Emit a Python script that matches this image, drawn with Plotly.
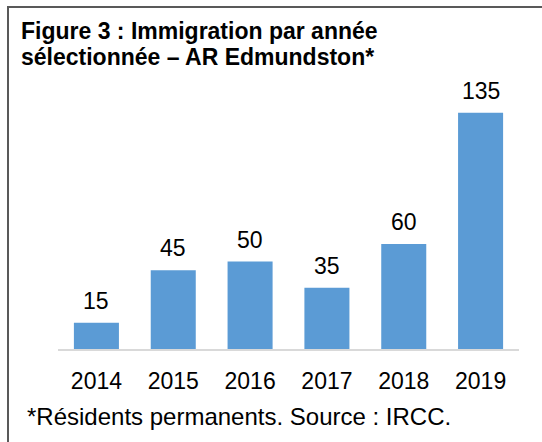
import plotly.graph_objects as go

years = ["2014", "2015", "2016", "2017", "2018", "2019"]
immigrants = [15, 45, 50, 35, 60, 135]
labels = ["15", "45", "50", "35", "60", "135"]

W, H = 542, 442
L, R, T, B = 58, 23, 60, 93
pw, ph = W - L - R, H - T - B

def px(x):
    return (x - L) / pw

def py(y):
    return (H - B - y) / ph

FONT = "Liberation Sans, Arial, sans-serif"

fig = go.Figure(go.Bar(
    x=years, y=immigrants, marker=dict(color="#5B9BD5", line=dict(width=0)),
    hoverinfo="skip",
))

for i, (v, lab) in enumerate(zip(immigrants, labels)):
    fig.add_annotation(x=i, y=v, text=lab, showarrow=False, yanchor="bottom",
                       yshift=7, font=dict(family=FONT, size=23, color="#000000"))

fig.add_annotation(xref="paper", yref="paper", x=px(19), y=py(31), xanchor="left",
                   yanchor="middle", showarrow=False,
                   text="<b>Figure 3 : Immigration par année</b>",
                   font=dict(family=FONT, size=23, color="#000000"))
fig.add_annotation(xref="paper", yref="paper", x=px(19), y=py(57), xanchor="left",
                   yanchor="middle", showarrow=False,
                   text="<b>sélectionnée – AR Edmundston*</b>",
                   font=dict(family=FONT, size=23, color="#000000"))
fig.add_annotation(xref="paper", yref="paper", x=px(25), y=py(416), xanchor="left",
                   yanchor="middle", showarrow=False,
                   text="*Résidents permanents. Source : IRCC.",
                   font=dict(family=FONT, size=24, color="#000000"))

fig.add_shape(type="rect", xref="paper", yref="paper", x0=px(8), x1=px(560),
              y0=py(7), y1=py(470), line=dict(color="#595959", width=2),
              fillcolor="rgba(0,0,0,0)", layer="above")

fig.update_layout(
    width=W, height=H, margin=dict(l=L, r=R, t=T, b=B),
    paper_bgcolor="white", plot_bgcolor="white",
    bargap=0.414, showlegend=False,
    font=dict(family=FONT, color="#000000"),
)
fig.update_xaxes(type="category", categoryorder="array", categoryarray=years,
                 range=[-0.5, len(years) - 0.5], autorange=False,
                 showline=True, linecolor="#D9D9D9", linewidth=2,
                 showgrid=False, ticks="",
                 tickfont=dict(family=FONT, size=23, color="#000000"),
                 ticklabelstandoff=10)
fig.update_yaxes(range=[0, ph / 1.75], autorange=False, visible=False,
                 showgrid=False, zeroline=False)

fig.write_html("out.html", config={"displayModeBar": False},
               post_script="document.body.style.margin='0';document.body.style.overflow='hidden';")
